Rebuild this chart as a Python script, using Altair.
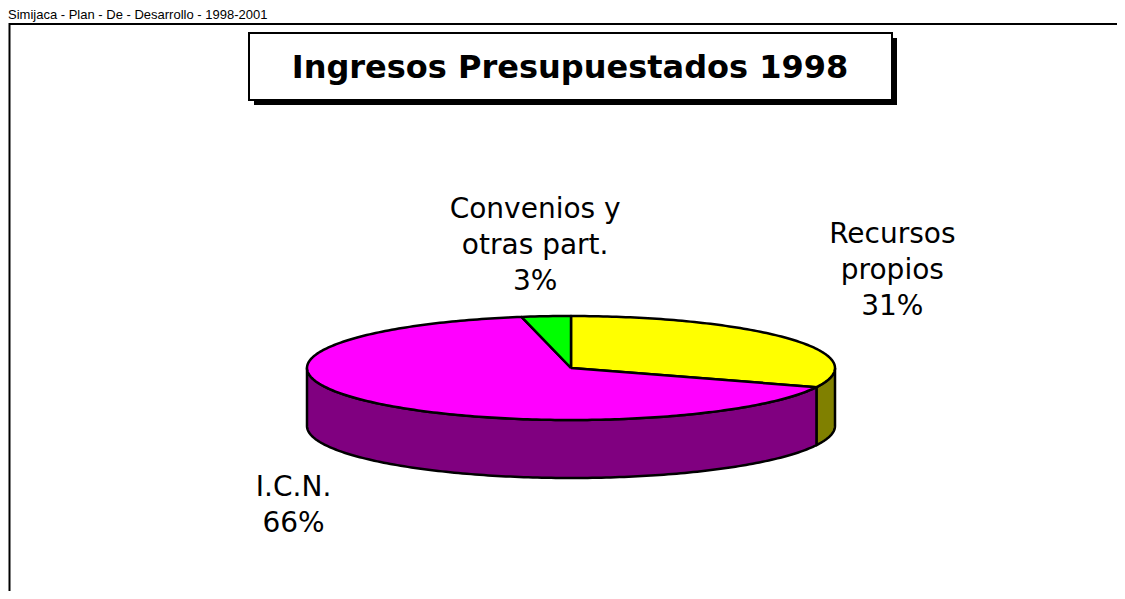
import math
import altair as alt
import pandas as pd

# ---------------- data ----------------
categories = ["Recursos propios", "I.C.N.", "Convenios y otras part."]
percents = [31, 66, 3]
label_lines = [["Recursos", "propios", "31%"], ["I.C.N.", "66%"], ["Convenios y", "otras part.", "3%"]]
title_text = "Ingresos Presupuestados 1998"
header_text = "Simijaca - Plan - De - Desarrollo - 1998-2001"

# ---------------- styles / layout ----------------
top_colors = ["#FFFF00", "#FF00FF", "#00FF00"]
side_colors = ["#808000", "#800080", "#008000"]
W, H = 1109, 583          # svg size (page minus 8px margins)
X0, Y0 = 8, 8             # page origin of the svg
CX, CY, RX, RY, DEPTH = 571, 368, 264, 52, 58   # 3-D pie geometry (page px)
LABEL_OFFSETS = {"Recursos propios": (103, -96), "I.C.N.": (-74, 95),
                 "Convenios y otras part.": (-11, -98)}
FONT = "DejaVu Sans"

side_names = [c + " (lado)" for c in categories]


def pt(theta_deg, drop=0.0):
    t = math.radians(theta_deg)
    return CX + RX * math.sin(t), CY - RY * math.cos(t) + drop


total = sum(percents)
top_rows, side_rows, lab_rows = [], [], []
start = 0.0
for i, (cat, p) in enumerate(zip(categories, percents)):
    a = start
    b = start + 360.0 * p / total
    start = b
    n = max(2, int(math.ceil(b - a)))
    seq = [(CX, CY)] + [pt(a + (b - a) * k / n) for k in range(n + 1)] + [(CX, CY)]
    for j, (x, y) in enumerate(seq):
        top_rows.append({"part": cat, "order": j, "x": x, "y": y})
    lo, hi = max(a, 90.0), min(b, 270.0)
    if hi > lo:
        m = max(2, int(math.ceil(hi - lo)))
        upper = [pt(lo + (hi - lo) * k / m) for k in range(m + 1)]
        lower = [pt(lo + (hi - lo) * k / m, DEPTH) for k in range(m, -1, -1)]
        seq = upper + lower + [upper[0]]
        for j, (x, y) in enumerate(seq):
            side_rows.append({"part": side_names[i], "order": j, "x": x, "y": y})
    mx, my = pt((a + b) / 2)
    dx, dy = LABEL_OFFSETS[cat]
    lab_rows.append({"part": cat, "x": mx + dx, "y": my + dy, "text": label_lines[i]})

top_df = pd.DataFrame(top_rows)
side_df = pd.DataFrame(side_rows)
lab_df = pd.DataFrame(lab_rows)

xs = alt.Scale(domain=[X0, X0 + W], nice=False, zero=False)
ys = alt.Scale(domain=[Y0, Y0 + H], nice=False, zero=False, reverse=True)
cs = alt.Scale(domain=categories + side_names, range=top_colors + side_colors)

one = pd.DataFrame({"k": [1]})

frame = alt.Chart(one).mark_rect(filled=False, stroke="black", strokeWidth=2).encode(
    x=alt.value(1.5), x2=alt.value(1400), y=alt.value(16), y2=alt.value(900))

header = alt.Chart(one).mark_text(align="left", baseline="alphabetic", fontSize=13,
                                  font="Liberation Sans", color="black").encode(
    x=alt.value(0), y=alt.value(11), text=alt.value(header_text))

shadow = alt.Chart(one).mark_rect(fill="black").encode(
    x=alt.value(249 - X0 + 5), x2=alt.value(892 - X0 + 5),
    y=alt.value(33 - Y0 + 5), y2=alt.value(100 - Y0 + 5))
box = alt.Chart(one).mark_rect(fill="white", stroke="black", strokeWidth=2).encode(
    x=alt.value(249 - X0), x2=alt.value(892 - X0),
    y=alt.value(33 - Y0), y2=alt.value(100 - Y0))
title = alt.Chart(one).mark_text(align="center", baseline="alphabetic", fontSize=32,
                                 fontWeight="bold", font=FONT, color="black").encode(
    x=alt.value(570 - X0), y=alt.value(78 - Y0), text=alt.value(title_text))

enc = dict(
    x=alt.X("x:Q", scale=xs, axis=None),
    y=alt.Y("y:Q", scale=ys, axis=None),
    color=alt.Color("part:N", scale=cs, legend=None),
    order=alt.Order("order:Q"),
)
sides = alt.Chart(side_df).mark_line(filled=True, stroke="black", strokeWidth=2.5,
                                     strokeJoin="round").encode(**enc)
tops = alt.Chart(top_df).mark_line(filled=True, stroke="black", strokeWidth=2.5,
                                   strokeJoin="round").encode(**enc)

labels = alt.Chart(lab_df).mark_text(align="center", baseline="alphabetic", fontSize=28,
                                     lineHeight=36, font=FONT, color="black").encode(
    x=alt.X("x:Q", scale=xs, axis=None),
    y=alt.Y("y:Q", scale=ys, axis=None),
    text="text",
)

chart = alt.layer(frame, header, shadow, box, title, sides, tops, labels).properties(
    width=W, height=H, padding=0, autosize=alt.AutoSizeParams(type="none"),
    background="white",
).configure_view(stroke=None)

chart.save("out.html", embed_options={"renderer": "svg", "actions": False})
